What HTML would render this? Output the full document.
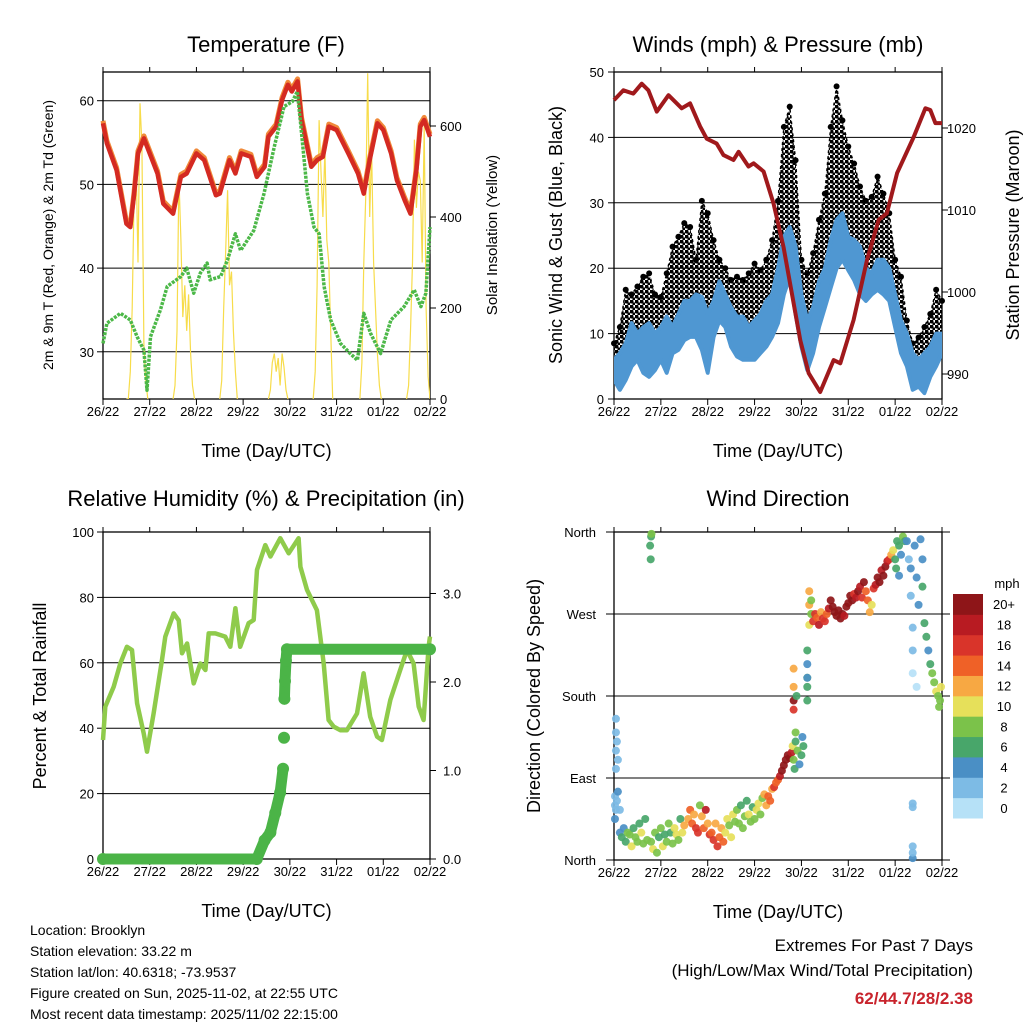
<!DOCTYPE html>
<html><head><meta charset="utf-8"><style>
html,body{margin:0;padding:0;background:#fff;}
svg{display:block;font-family:"Liberation Sans",Arial,sans-serif;}
</style></head><body>
<svg id="root" width="1024" height="1024" viewBox="0 0 1024 1024" xmlns="http://www.w3.org/2000/svg">
<defs>
<pattern id="dots" width="5" height="5" patternUnits="userSpaceOnUse">
<circle cx="1.5" cy="1.5" r="2" fill="#000"/>
<circle cx="4" cy="4" r="1.6" fill="#000"/>
</pattern>
</defs>
</svg>
<script>
// ---------- DATA ----------
const tempHours=[0,2,7,12,14,16,18,21,24,28,31,36,40,43,48,52,58,60,65,68,71,76,79,83,85,89,92,95,97,100,102,107,110,113,116,120,126,131,134,137,141,144,148,151,155,158,161,163,165,168];
const tempValues=[57.3,54.9,51.7,45.3,44.9,48.8,53.7,55.5,53.7,51.3,47.7,46.5,50.9,51.3,53.7,52.9,48.7,48.9,52.9,51.3,53.7,53.3,50.9,52.1,55.7,56.9,60.1,61.9,61.1,62.3,57.7,52.1,52.9,53.3,56.9,56.5,53.7,51.3,48.9,52.9,57.3,56.5,53.7,50.5,48.1,46.5,51.7,56.9,57.7,55.7];
const dewHours=[0,2,9,14,17.5,21,22.6,24.4,29.5,33,40,43,46.6,50,53.5,55,60.4,64,68,70.7,77.5,82.7,88,93,97.3,99.8,101.5,105,108.4,111,113.6,117,122,127,130.7,134,137.5,142.6,147.9,154.7,159.9,163.3,165.9,168];
const dewValues=[31,33.4,34.6,33.8,31.8,30.2,25.4,31.8,35,37.8,39,40,37,39.4,40.6,38.6,39,41,44.1,42.1,44.5,48.9,54.5,59.3,59.9,61.1,57.3,48.9,44.9,44.1,37.8,33.8,31,29.8,29,34.6,32.2,29.8,33.8,35.4,37.4,35.4,37,44.9];
const solarStart=[12,36,60,85,108,132,156];
const solarValues=[[0,0,60,200,450,520,300,650,560,120,40,0],[0,30,150,488,350,180,250,150,230,100,30,0],[0,40,200,320,459,250,280,150,60,0],[0,20,80,100,60,90,30,100,70,20,0],[0,60,250,613,500,400,550,350,300,150,0],[0,80,300,450,716,400,550,300,200,100,30,0],[0,30,150,300,570,420,500,480,300,600,200,50,0]];
const pressHours=[0,4.8,9.9,14.2,17.6,21.9,27.9,34.7,39,44.1,47.5,52.6,56.1,61.2,63.8,68.9,71.5,76.6,81.7,86.8,91.1,95.4,99.7,105.6,112.5,115.9,122.7,129.6,135.6,139.8,145,153.5,159.5,162,164.6,168];
const pressValues=[1023.4,1024.6,1024.2,1025.4,1024.6,1022,1024,1022.4,1023,1020.2,1018.7,1018.1,1016.7,1016.1,1017.1,1015.3,1015.7,1014.7,1010.8,1005.5,999.8,994.1,990.1,987.8,991.7,991.3,996.6,1003.9,1008.8,1009.6,1014.5,1018.9,1022.4,1022.2,1020.6,1020.6];
const windStep=3;
const windLow=[2.9,1.4,2.9,5,6,4,3.4,4.4,6,4,7,7.5,9,9.5,9.5,7.5,4,9.5,12,11,8,6.5,6,6,6,7,8,9.5,11.6,16,18.7,13,8,4.4,7,11,14,17,20,21.3,19.7,18.2,16,15,16,16.7,16,15,11,7,5,1.4,1.9,0.9,3.4,5,7];
const windHigh=[6,7,8.5,11.6,10,11,11.6,10,11,12.6,11,13,15,15,16,15.6,13,15,18,16,14,12.6,12.6,11,12,13,15,16,20,24.8,26.3,23.3,16,12,14,18,20,24.3,27.4,28.4,24.8,24.3,23.3,20,19.2,21.3,21.3,20,16,12,10,7,6,7,8,10,10];
const gustHigh=[8.5,11,16.7,16,17.2,18.7,19.2,16,15.6,19.2,23.3,24.8,26.9,26.3,21.3,30.3,28.4,24.3,21.3,20,18.2,18.7,18.2,19.2,20.7,19.7,21.3,24.3,30.3,41.6,44.7,36.5,21.3,19.2,22.3,27.4,31.4,41.6,47.8,42.6,38.6,36,32.5,30.3,30.9,34,31.4,28.4,21.3,18.7,12,8.5,9.4,11,13,16.7,15];
const rhHours=[0,1.2,5.5,8.9,12.3,14.9,17.5,20.9,22.6,26,30.3,32,36.3,38.9,40.6,43.2,46.6,50,52.6,54.3,57.7,62.8,65.4,68,70.5,74.8,77.4,79.1,83.4,86,91.1,95.4,100.5,101.4,104.8,109.9,113.4,115.9,118.5,121.9,125.3,130.5,133.9,137.3,140.8,143.3,147.6,152.7,156.2,159.6,162.2,164.7,167.3,168];
const rhValues=[36.4,46.6,52.7,59.8,64.9,63.9,47.6,38.4,32.8,44.5,60.9,68,75.1,73,62.9,65.9,53.7,59.8,57.8,69,69,68,64.9,76.7,64.9,72.1,73.1,88.4,96,92.5,98.1,93.5,98.1,89.4,82.3,76.1,59.8,42.5,40.5,39.4,39.4,44.5,56.8,43.5,37.4,36.4,48.6,57.8,63.9,59.8,46.6,42.5,64.9,68];
const precipHours=[0,79,83,86,88.5,91,92.5,93,93.2,93.5,94,94.5,168];
const precipValues=[0,0,0.21,0.3,0.52,0.75,1.02,1.37,1.81,2.01,2.24,2.37,2.37];
const dirHours=[0.5,0.5,1,1.5,2,1,1,1,1,1.5,2,0.5,3, 3,4,5,6,7,8,9,10,11,12,13,14,15,16,17, 18.5,19,18.8,19.2, 19,20,21,22,23,24,25,26,27,28,29,30,31,32,33,34,35,36, 38,39,40,41,42,43,44,45,46,47,48,49, 50,51,52,53,54,55,56,57,58,59,60,61,62, 63,64,65,66,67,68,69,70,71,72,73,74,75,76,77, 78,79,80,81,82,83,84, 85,86,87,88,89,90,91, 91.5,92,92.5,93,94,95,96,93,96.5,97, 92,92,92,92,93.5, 99,99,99,99,99,99, 100,100,100,101,101, 102,103,104,105,106,107,108,109,110, 111,112,113,114,115,116,117,118,119,120,121,122,123,124, 125,126,127,128,129,130,131,132,133,134, 135,136,137,138,139,140,141,142, 143,144,145,146,147,148,149,144.5,146, 150,151,152,152,153,153,154,155,156,157,158,158,153,153,153,153,153,153,155, 159,160,161,162,163,164,165,166,167,167.5,166.5];
const dirDegrees=[60,70,55,65,75,100,120,140,155,130,110,45,55, 30,25,35,20,30,28,15,35,25,20,40,30,18,45,22, 345,355,330,358, 20,12,30,8,25,35,15,28,20,40,30,18,35,28,22,45,30,38, 45,55,40,50,35,30,60,48,35,55,40,28, 30,22,40,15,25,35,20,30,45,38,25,50,42, 55,40,60,35,48,65,50,42,58,45,55,62,50,68,72, 60,70,65,78,80,85,88, 92,98,104,110,115,112,118, 125,110,100,130,120,105,115,140,135,125, 165,175,190,210,180, 175,190,200,215,230,200, 258,280,295,270,285, 262,270,266,258,272,265,262,270,276, 285,278,272,268,274,265,270,268,278,282,290,285,292,288, 295,300,288,305,295,285,272,280,298,302, 310,305,318,312,322,328,330,335, 340,330,350,345,335,355,350,320,312, 350,330,320,290,255,230,345,310,280,352,330,300,205,58,62,15,2,8,190, 260,245,230,215,205,195,185,180,175,190,168];
const dirSpeeds=[3,3,2,3,4,2,2,2,2,3,2,4,3, 5,6,5,7,8,9,10,7,8,9,6,10,9,6,8, 7,6,7,9, 9,10,8,9,7,8,10,7,9,8,6,9,10,11,8,7,10,12, 13,14,15,12,16,17,8,12,15,18,13,16, 14,16,13,17,15,12,14,10,11,9,11,10,8, 9,8,7,9,8,7,10,9,6,8,10,11,9,8,12, 13,14,15,12,16,14,15, 18,20,21,22,20,22,19, 10,9,7,6,8,4,6,8,5,6, 16,20,13,12,7, 6,7,8,5,6,5, 10,12,12,8,9, 16,17,15,18,13,16,17,15,19, 20,21,20,22,20,21,22,19,20,21,20,22,17,18, 21,19,16,20,15,14,12,11,17,18, 20,21,19,22,20,18,17,13, 10,7,7,6,5,8,7,6,4, 4,3,4,3,2,2,5,4,5,4,5,7,1,3,3,2,4,3,1, 7,6,4,7,8,9,10,8,9,10,9];
const dayLabels=["26/22","27/22","28/22","29/22","30/22","31/22","01/22","02/22"];
const tempTicks=[30,40,50,60];
const solarTicks=[0,200,400,600];
const windTicks=[0,10,20,30,40,50];
const pressTicks=[990,1000,1010,1020];
const rhTicks=[0,20,40,60,80,100];
const precipTicks=["0.0","1.0","2.0","3.0"];
const dirTicks=["North","East","South","West","North"];
const speedLabels=["0","2","4","6","8","10","12","14","16","18","20+"];
const speedColors=["#b6e1f7","#7dbbe5","#4a8fc5","#48a66a","#7bc24a","#e6e05a","#f7a843","#ef6127","#d9342a","#b81b22","#8e1518"];

// ---------- HELPERS ----------
const NS="http://www.w3.org/2000/svg";
const root=document.getElementById('root');
function mk(tag,attrs,parent){const e=document.createElementNS(NS,tag);for(const k in attrs)e.setAttribute(k,attrs[k]);(parent||root).appendChild(e);return e;}
function txt(s,x,y,size,anchor,parent,extra){const e=mk('text',Object.assign({x:x,y:y,'font-size':size,'text-anchor':anchor||'middle',fill:'#000'},extra||{}),parent);e.textContent=s;return e;}
function pts(xs,ys,fx,fy){return xs.map((v,i)=>fx(v).toFixed(1)+','+fy(ys[i]).toFixed(1)).join(' ');}

const P1={x0:103,x1:430,y0:72,y1:399};
const P2={x0:614,x1:942,y0:72,y1:399};
const P3={x0:103,x1:430,y0:532,y1:859};
const P4={x0:614,x1:942,y0:532,y1:860};
function xs(P){return h=>P.x0+h*(P.x1-P.x0)/168;}
function lin(d0,d1,r0,r1){return v=>r0+(v-d0)*(r1-r0)/(d1-d0);}

function frame(P,name){
  const g=mk('g',{});
  
  
  mk('rect',{x:P.x0,y:P.y0,width:P.x1-P.x0,height:P.y1-P.y0,fill:'none',stroke:'#000','stroke-width':1.3},g);
  for(let d=0;d<8;d++){const x=P.x0+d*(P.x1-P.x0)/7;
    mk('line',{x1:x,x2:x,y1:P.y0-5,y2:P.y0,stroke:'#000','stroke-width':1},g);
    mk('line',{x1:x,x2:x,y1:P.y1,y2:P.y1+6,stroke:'#000','stroke-width':1},g);
    const t=txt(dayLabels[d],x,P.y1+17,13,'middle',g);
    
    
  }
  const xt=txt('Time (Day/UTC)',(P.x0+P.x1)/2,P.y1+58,18,'middle',g);
  
  
  return g;
}
function hgrid(P,y,g){mk('line',{x1:P.x0,x2:P.x1,y1:y,y2:y,stroke:'#000','stroke-width':1},g);}
function clip(P,id){const c=mk('clipPath',{id:id});mk('rect',{x:P.x0,y:P.y0,width:P.x1-P.x0,height:P.y1-P.y0},c);return 'url(#'+id+')';}

// ---------- PANEL 1 ----------
(function(){
  const P=P1,fx=xs(P),fy=lin(60,50,100.7,184.4),fs=lin(0,600,399,126);
  const g=frame(P,'temperature-panel');
  const title=txt('Temperature (F)',266,52,22,'middle');
  
  
  tempTicks.forEach(v=>{hgrid(P,fy(v),g);mk('line',{x1:P.x0-6,x2:P.x0,y1:fy(v),y2:fy(v),stroke:'#000'},g);
    const t=txt(String(v),P.x0-9,fy(v)+5,13,'end',g);
    
    });
  solarTicks.forEach(v=>{mk('line',{x1:P.x1,x2:P.x1+6,y1:fs(v),y2:fs(v),stroke:'#000'},g);
    const t=txt(String(v),P.x1+10,fs(v)+5,13,'start',g);
    
    });
  const yl=txt('2m & 9m T (Red, Orange) & 2m Td (Green)',0,0,14,'middle',g,{transform:'translate(53,235) rotate(-90)'});
  
  
  const yr=txt('Solar Insolation (Yellow)',0,0,15,'middle',g,{transform:'translate(497,235) rotate(-90)'});
  
  
  const cp=clip(P,'c1');
  solarStart.forEach((s,i)=>{const hs=solarValues[i].map((v,j)=>s+j);
    const l=mk('polyline',{points:pts(hs,solarValues[i],fx,fs),fill:'none',stroke:'#f7dc4a','stroke-width':1.2,'clip-path':cp});
    
    });
  const o=mk('polyline',{points:pts(tempHours,tempValues.map(v=>v+0.3),fx,fy),fill:'none',stroke:'#f08a3a','stroke-width':5,'stroke-linejoin':'round'});
  
  
  const r=mk('polyline',{points:pts(tempHours,tempValues,fx,fy),fill:'none',stroke:'#d42a22','stroke-width':4.5,'stroke-linejoin':'round'});
  
  
  const d=mk('polyline',{points:pts(dewHours,dewValues,fx,fy),fill:'none',stroke:'#4cb848','stroke-width':3.5,'stroke-dasharray':'3 1.2','stroke-linejoin':'round'});
  
  
})();

// ---------- PANEL 2 ----------
(function(){
  const P=P2,fx=xs(P),fy=lin(0,50,399,72),fp=lin(1020,990,128,374);
  const g=frame(P,'winds-panel');
  const title=txt('Winds (mph) & Pressure (mb)',778,52,22,'middle');
  
  
  windTicks.forEach(v=>{if(v>0&&v<50)hgrid(P,fy(v),g);mk('line',{x1:P.x0-6,x2:P.x0,y1:fy(v),y2:fy(v),stroke:'#000'},g);
    const t=txt(String(v),P.x0-10,fy(v)+5,13,'end',g);
    
    });
  pressTicks.forEach(v=>{mk('line',{x1:P.x1,x2:P.x1+6,y1:fp(v),y2:fp(v),stroke:'#000'},g);
    const t=txt(String(v),P.x1+5,fp(v)+5,13,'start',g);
    
    });
  const yl=txt('Sonic Wind & Gust (Blue, Black)',0,0,18,'middle',g,{transform:'translate(562,235) rotate(-90)'});
  
  
  const yr=txt('Station Pressure (Maroon)',0,0,18,'middle',g,{transform:'translate(1019,235) rotate(-90)'});
  
  
  const hrs=windLow.map((v,i)=>i*windStep);
  const cp=clip(P,'c2');
  const gp=hrs.map((h,i)=>fx(h).toFixed(1)+','+fy(gustHigh[i]).toFixed(1)).concat(hrs.slice().reverse().map((h,k)=>{const i=hrs.length-1-k;return fx(h).toFixed(1)+','+fy(windLow[i]).toFixed(1);})).join(' ');
  const gb=mk('polygon',{points:gp,fill:'url(#dots)',stroke:'#000','stroke-width':1.5,'stroke-dasharray':'3 3','stroke-linejoin':'round','clip-path':cp});
  
  
  hrs.forEach((h,i)=>{const c=mk('circle',{cx:fx(h),cy:fy(gustHigh[i]),r:3,fill:'#000'});
    
    });
  const wp=hrs.map((h,i)=>fx(h).toFixed(1)+','+fy(windHigh[i]).toFixed(1)).concat(hrs.slice().reverse().map((h,k)=>{const i=hrs.length-1-k;return fx(h).toFixed(1)+','+fy(windLow[i]).toFixed(1);})).join(' ');
  const wb=mk('polygon',{points:wp,fill:'#4f97d2',stroke:'#4f97d2','stroke-width':4,'stroke-linejoin':'round','clip-path':cp});
  
  
  const pl=mk('polyline',{points:pts(pressHours,pressValues,fx,fp),fill:'none',stroke:'#a0191c','stroke-width':4,'stroke-linejoin':'round'});
  
  
})();

// ---------- PANEL 3 ----------
(function(){
  const P=P3,fx=xs(P),fy=lin(0,100,859,532),fp=lin(0,1,859,770.5);
  const g=frame(P,'humidity-panel');
  const title=txt('Relative Humidity (%) & Precipitation (in)',266,506,22,'middle');
  
  
  rhTicks.forEach(v=>{if(v>0&&v<100)hgrid(P,fy(v),g);mk('line',{x1:P.x0-6,x2:P.x0,y1:fy(v),y2:fy(v),stroke:'#000'},g);
    const t=txt(String(v),P.x0-9,fy(v)+5,13,'end',g);
    
    });
  precipTicks.forEach(s=>{const v=parseFloat(s);mk('line',{x1:P.x1,x2:P.x1+6,y1:fp(v),y2:fp(v),stroke:'#000'},g);
    const t=txt(s,P.x1+13,fp(v)+5,13,'start',g);
    
    });
  const yl=txt('Percent & Total Rainfall',0,0,18,'middle',g,{transform:'translate(46,696) rotate(-90)'});
  
  
  const rl=mk('polyline',{points:pts(rhHours,rhValues,fx,fy),fill:'none',stroke:'#8fcb4b','stroke-width':4.5,'stroke-linejoin':'round'});
  
  
  for(let i=1;i<precipHours.length;i++){
    if(precipValues[i]-precipValues[i-1]<0.3){
      const s=mk('line',{x1:fx(precipHours[i-1]),y1:fp(precipValues[i-1]),x2:fx(precipHours[i]),y2:fp(precipValues[i]),stroke:'#4bb447','stroke-width':11,'stroke-linecap':'round'});
      
      
    }
  }
  precipHours.forEach((h,i)=>{const c=mk('circle',{cx:fx(h),cy:fp(precipValues[i]),r:6,fill:'#4bb447'});
    
    });
})();

// ---------- PANEL 4 ----------
(function(){
  const P=P4,fx=xs(P),fy=lin(0,360,860,532);
  const g=frame(P,'direction-panel');
  const title=txt('Wind Direction',778,506,22,'middle');
  
  
  dirTicks.forEach((s,i)=>{const y=fy(i*90);mk('line',{x1:P.x0-8,x2:P.x1+8,y1:y,y2:y,stroke:'#000','stroke-width':1},g);
    const t=txt(s,P.x0-18,y+5,13,'end',g);
    
    });
  const yl=txt('Direction (Colored By Speed)',0,0,18,'middle',g,{transform:'translate(540,696) rotate(-90)'});
  
  
  dirHours.forEach((h,i)=>{const b=Math.min(10,Math.floor(dirSpeeds[i]/2));
    const c=mk('circle',{cx:fx(h),cy:fy(dirDegrees[i]),r:4,fill:speedColors[b],'fill-opacity':0.92});
    
    });
  const cb=mk('g',{});
  
  
  const bh=(818-594)/11;
  speedColors.forEach((c,i)=>{const y=818-(i+1)*bh;
    mk('rect',{x:953,y:y,width:30,height:bh+0.5,fill:c},cb);
    const t=txt(speedLabels[i],1004,y+bh/2+5,13,'middle',cb);
    
    });
  const u=txt('mph',1007,588,13,'middle',cb);
  
  
})();

// ---------- FOOTER ----------
(function(){
  const lines=["Location: Brooklyn","Station elevation: 33.22 m","Station lat/lon: 40.6318; -73.9537","Figure created on Sun, 2025-11-02, at 22:55 UTC","Most recent data timestamp: 2025/11/02 22:15:00"];
  lines.forEach((s,i)=>{const t=txt(s,30,935+i*21,14,'start');
    
    });
  const a=txt('Extremes For Past 7 Days',973,951,17,'end');
  
  
  const b=txt('(High/Low/Max Wind/Total Precipitation)',973,976,17,'end');
  
  
  const c=txt('62/44.7/28/2.38',973,1004,17,'end',null,{fill:'#c8232c','font-weight':'bold'});
  
  
})();
</script>
</body></html>
